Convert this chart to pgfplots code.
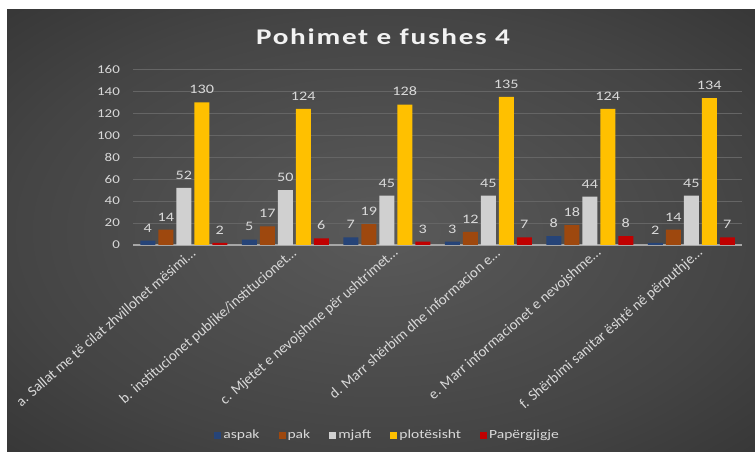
\documentclass[border=0pt]{standalone}
\usepackage{pgfplots}
\pgfplotsset{compat=1.18}
\usepackage{graphicx}
\usepackage{fontspec}
\setmainfont{Carlito}
\newfontfamily\titlefont[LetterSpace=6.0]{Carlito}
\definecolor{cA}{HTML}{264478}
\definecolor{cB}{HTML}{9E480E}
\definecolor{cC}{HTML}{D0D0D0}
\definecolor{cD}{HTML}{FFC000}
\definecolor{cE}{HTML}{C00000}
\definecolor{lab}{HTML}{D9D9D9}
\definecolor{gridc}{HTML}{656565}
\definecolor{axc}{HTML}{A6A6A6}
\definecolor{bgin}{HTML}{5A5A5A}
\definecolor{bgmid}{HTML}{444444}
\definecolor{bgout}{HTML}{262626}
\pgfdeclareradialshading{bgshade}{\pgfpoint{0bp}{0bp}}{color(0bp)=(bgin); color(25bp)=(bgmid); color(50bp)=(bgout)}
\newcommand\sx[1]{\scalebox{1.25}[1]{#1}}
\begin{document}
\begin{tikzpicture}[x=1bp,y=1bp]
\fill[white] (0,0) rectangle (755,452);
\shade[shading=bgshade] (7,0) rectangle (755,442);
\node[text=white!95!black, font=\titlefont\bfseries\fontsize{22.5}{22.5}\selectfont, xscale=1.3] at (383,415) {Pohimet e fushes 4};
\begin{axis}[
  at={(133bp,207bp)}, anchor=south west,
  scale only axis, width=609bp, height=175.5bp,
  xmin=-0.5, xmax=5.5, ymin=0, ymax=160,
  /pgf/number format/assume math mode=true,
  ytick={0,20,...,160},
  xtick={0,...,5},
  xticklabels={{a. Sallat me të cilat zhvillohet mësimi…},
    {b. institucionet publike/institucionet…},
    {c. Mjetet e nevojshme për ushtrimet…},
    {d. Marr shërbim dhe informacion e…},
    {e. Marr informacionet e nevojshme…},
    {f. Shërbimi sanitar është në përputhje…}},
  ybar=3bp, bar width=15bp,
  axis x line*=bottom, axis y line*=left,
  x axis line style={draw=axc, line width=1.2bp},
  y axis line style={draw=none},
  major tick length=0pt,
  ymajorgrids, grid style={draw=gridc, line width=0.8bp},
  yticklabel style={font=\fontsize{12}{12}\selectfont, text=lab, xscale=1.25, xshift=-7bp},
  xticklabel style={font=\fontsize{14.8}{14.8}\selectfont, text=lab, xshift=12bp, yshift=-4bp, rotate=41, anchor=east},
  nodes near coords,
  every node near coord/.append style={font=\fontsize{13}{13}\selectfont, text=lab, yshift=5bp, xscale=1.25},
  legend style={at={(0.418,-1.083)}, anchor=center, draw=none, fill=none, text=lab, font=\fontsize{12.5}{12.5}\selectfont, legend columns=-1, /tikz/every even column/.append style={column sep=17bp}},
  legend image code/.code={\fill[#1] (0bp,-3.5bp) rectangle (7bp,3.5bp);},
]
\addplot[fill=cA, draw=none] coordinates {(0,4) (1,5) (2,7) (3,3) (4,8) (5,2)};
\addplot[fill=cB, draw=none] coordinates {(0,14) (1,17) (2,19) (3,12) (4,18) (5,14)};
\addplot[fill=cC, draw=none] coordinates {(0,52) (1,50) (2,45) (3,45) (4,44) (5,45)};
\addplot[fill=cD, draw=none] coordinates {(0,130) (1,124) (2,128) (3,135) (4,124) (5,134)};
\addplot[fill=cE, draw=none] coordinates {(0,2) (1,6) (2,3) (3,7) (4,8) (5,7)};
\legend{\sx{aspak},\sx{pak},\sx{mjaft},\sx{plotësisht},\sx{Papërgjigje}}
\end{axis}
\pgfresetboundingbox
\useasboundingbox (0,0) rectangle (755,452);
\end{tikzpicture}
\end{document}
